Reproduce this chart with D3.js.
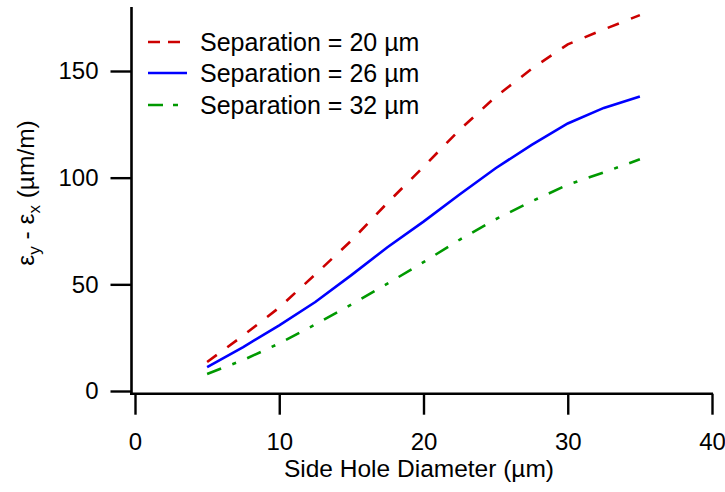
<!DOCTYPE html>
<html>
<head>
<meta charset="utf-8">
<script src="https://cdn.jsdelivr.net/npm/d3@7/dist/d3.min.js"></script>
<style>
  body { margin: 0; background: #fff; }
  svg { display: block; }
  text { font-family: "Liberation Sans", Arial, Helvetica, sans-serif; fill: #000; }
</style>
</head>
<body>
<svg id="chart" width="725" height="492"></svg>
<script>
// ---- data ----
const diameters = [5, 7.5, 10, 12.5, 15, 17.5, 20, 22.5, 25, 27.5, 30, 32.5, 35];
const sep20 = [13.6, 26, 39.1, 54.7, 70.5, 88.2, 105.1, 122.4, 137.9, 151, 162.5, 169.5, 176.2];
const sep26 = [11.2, 20.6, 30.8, 41.7, 54.3, 67.4, 79.4, 92.1, 104.4, 115.4, 125.4, 132.7, 138];
const sep32 = [8, 14.5, 22.3, 31.2, 40.5, 50.3, 60.4, 70.9, 80.5, 88.9, 96.7, 102.5, 108.6];
const seriesNames = ["Separation = 20 \u00b5m", "Separation = 26 \u00b5m", "Separation = 32 \u00b5m"];
const xTicks = [0, 10, 20, 30, 40];
const yTicks = [0, 50, 100, 150];

// ---- styles ----
const styles = [
  { color: "#cc0000", dash: "12,13", legendDash: "12,8" },
  { color: "#0000ff", dash: null, legendDash: null },
  { color: "#009900", dash: "15,12,4,12", legendDash: "15,10,5,10" }
];
const seriesValues = [sep20, sep26, sep32];

const svg = d3.select("#chart");
const x = d3.scaleLinear().domain([0, 40]).range([135, 712]);
const y = d3.scaleLinear().domain([0, 150]).range([391, 71]);

const axisX = 131.5, axisY = 393.7;
const tickFont = 24, legendFont = 25, titleFont = 24.5;

// x axis
const gx = svg.append("g").attr("transform", `translate(0,${axisY})`)
  .call(d3.axisBottom(x).tickValues(xTicks).tickSize(21).tickPadding(18).tickFormat(d3.format("d")));
gx.select(".domain").remove();
gx.selectAll(".tick line").attr("stroke", "#000").attr("stroke-width", 2.4);
gx.selectAll(".tick text").attr("font-size", tickFont).attr("font-family", null);
svg.append("line").attr("x1", 130).attr("x2", 713).attr("y1", axisY).attr("y2", axisY)
  .attr("stroke", "#000").attr("stroke-width", 2.6);

// y axis
const gy = svg.append("g").attr("transform", `translate(${axisX},0)`)
  .call(d3.axisLeft(y).tickValues(yTicks).tickSize(21).tickPadding(12).tickFormat(d3.format("d")));
gy.select(".domain").remove();
gy.selectAll(".tick line").attr("stroke", "#000").attr("stroke-width", 2.4);
gy.selectAll(".tick text").attr("font-size", tickFont).attr("font-family", null);
svg.append("line").attr("x1", axisX).attr("x2", axisX).attr("y1", 7).attr("y2", axisY + 1.3)
  .attr("stroke", "#000").attr("stroke-width", 2.6);

// lines
const line = d3.line().x((d, i) => x(diameters[i])).y(d => y(d)).curve(d3.curveLinear);
seriesValues.forEach((vals, k) => {
  svg.append("path").datum(vals)
    .attr("d", line)
    .attr("fill", "none")
    .attr("stroke", styles[k].color)
    .attr("stroke-width", 2.6)
    .attr("stroke-dasharray", styles[k].dash);
});

// legend
const legX1 = 148, legX2 = 187, legTextX = 200;
const legY = [42, 73, 105];
seriesNames.forEach((name, k) => {
  svg.append("line").attr("x1", legX1).attr("x2", legX2).attr("y1", legY[k]).attr("y2", legY[k])
    .attr("stroke", styles[k].color).attr("stroke-width", 2.6)
    .attr("stroke-dasharray", styles[k].legendDash);
  svg.append("text").attr("x", legTextX).attr("y", legY[k]).attr("dy", "0.36em")
    .attr("font-size", legendFont).text(name);
});

// axis titles
svg.append("text").attr("x", 419).attr("y", 477)
  .attr("text-anchor", "middle").attr("font-size", titleFont)
  .text("Side Hole Diameter (\u00b5m)");

const yt = svg.append("text")
  .attr("transform", `translate(34,193) rotate(-90)`)
  .attr("text-anchor", "middle").attr("font-size", titleFont);
yt.append("tspan").text("\u03b5");
yt.append("tspan").attr("font-size", 17).attr("dy", 6).text("y");
yt.append("tspan").attr("dy", -6).text(" - \u03b5");
yt.append("tspan").attr("font-size", 17).attr("dy", 6).text("x");
yt.append("tspan").attr("dy", -6).text(" (\u00b5m/m)");
</script>
</body>
</html>
